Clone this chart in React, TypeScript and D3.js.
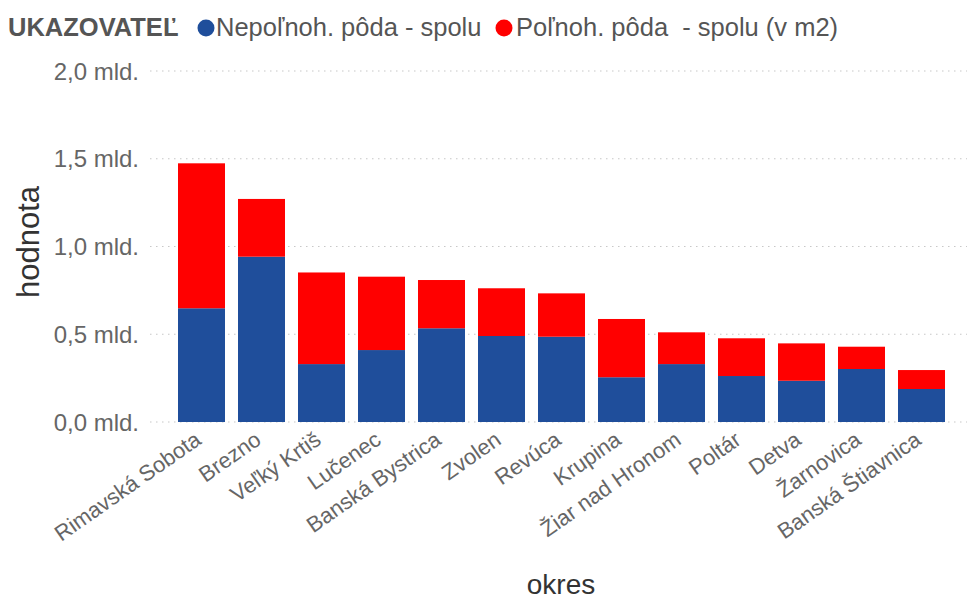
import React from "react";
import * as d3 from "d3";

const categories = [
  "Rimavská Sobota", "Brezno", "Veľký Krtiš", "Lučenec", "Banská Bystrica",
  "Zvolen", "Revúca", "Krupina", "Žiar nad Hronom", "Poltár", "Detva",
  "Žarnovica", "Banská Štiavnica",
];
// Nepoľnoh. pôda - spolu (in mld.)
const nonAgri = [0.648, 0.942, 0.330, 0.410, 0.534, 0.490, 0.486, 0.255, 0.330, 0.262, 0.235, 0.302, 0.188];
// Poľnoh. pôda - spolu (in mld.)
const agri = [0.826, 0.329, 0.522, 0.418, 0.275, 0.272, 0.247, 0.332, 0.181, 0.215, 0.213, 0.127, 0.108];
const yTicks = [0, 0.5, 1.0, 1.5, 2.0];
const seriesNames = ["Nepoľnoh. pôda - spolu", "Poľnoh. pôda  - spolu (v m2)"];
const colors = ["#1f4e9b", "#ff0000"];

const W = 967;
const H = 599;
const FONT = "'Liberation Sans', Arial, sans-serif";

export default function App() {
  const y = d3.scaleLinear().domain([0, 2]).range([422, 71]);
  const x = d3
    .scaleBand<string>()
    .domain(categories)
    .range([172, 951])
    .paddingInner(0.2167)
    .paddingOuter(0.1);

  const fmt = (v: number) => d3.format(".1f")(v).replace(".", ",") + " mld.";

  const stackData = categories.map((c, i) => ({ c, a: nonAgri[i], b: agri[i] }));
  const stack = d3.stack<any>().keys(["a", "b"])(stackData);

  return (
    <svg width={W} height={H} style={{ position: "absolute", left: 0, top: 0, fontFamily: FONT }}>
      <rect width={W} height={H} fill="#fff" />
      {/* legend */}
      <text x={8} y={36} fontSize={25.5} fontWeight="bold" fill="#555">UKAZOVATEĽ</text>
      <circle cx={206} cy={28} r={8.5} fill={colors[0]} />
      <text x={216} y={36} fontSize={25.5} fill="#555" style={{ whiteSpace: "pre" }}>{seriesNames[0]}</text>
      <circle cx={504} cy={28} r={8.5} fill={colors[1]} />
      <text x={516} y={36} fontSize={25.5} fill="#555" style={{ whiteSpace: "pre" }}>{seriesNames[1]}</text>

      {/* grid & y ticks */}
      {yTicks.map((t) => (
        <g key={t}>
          <line x1={150} x2={967} y1={y(t)} y2={y(t)} stroke="#c8c8c8" strokeWidth={1.2} strokeDasharray="1.5,4.5" />
          <text x={139} y={y(t)} dy="0.36em" textAnchor="end" fontSize={24} fill="#666">{fmt(t)}</text>
        </g>
      ))}

      {/* bars */}
      {stack.map((s, si) => (
        <g key={si} fill={colors[si]}>
          {s.map((d, i) => (
            <rect
              key={i}
              x={x(categories[i])}
              width={x.bandwidth()}
              y={y(d[1])}
              height={y(d[0]) - y(d[1])}
            />
          ))}
        </g>
      ))}

      {/* x labels */}
      {categories.map((c) => {
        const cx = (x(c) as number) + x.bandwidth() / 2 + 1;
        return (
          <text
            key={c}
            transform={`translate(${cx},${443}) rotate(-35)`}
            textAnchor="end"
            fontSize={22}
            fill="#666"
          >
            {c}
          </text>
        );
      })}

      {/* axis titles */}
      <text transform={`translate(39,242) rotate(-90)`} textAnchor="middle" fontSize={31} fill="#333">hodnota</text>
      <text x={561} y={594} textAnchor="middle" fontSize={28} fill="#333">okres</text>
    </svg>
  );
}
